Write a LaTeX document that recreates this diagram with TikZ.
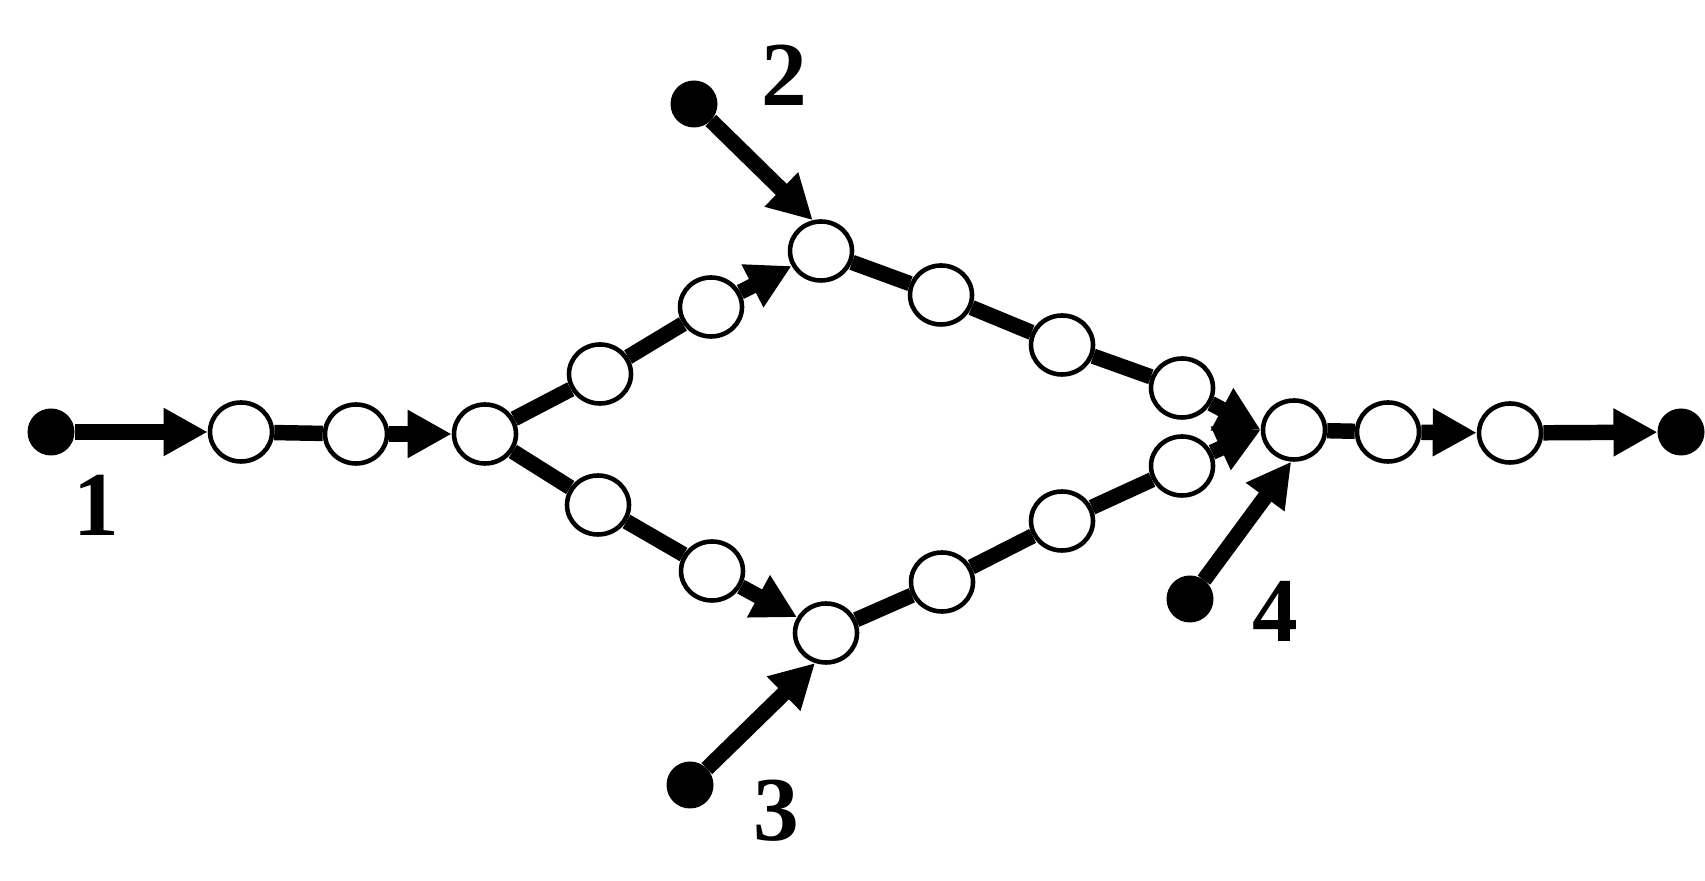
\documentclass[tikz,border=0pt]{standalone}
\usepackage{fontspec}
\setmainfont{Liberation Serif}
\usetikzlibrary{arrows.meta}
\usetikzlibrary{shapes}

\begin{document}
\begin{tikzpicture}[
		x=0.1mm, y=-0.1mm,
		line width=4.4pt,
		>={Triangle[length=4.4mm,width=4.5mm]},
		bead/.style={ellipse,draw,fill=white,line width=1.3pt,minimum width=6.2mm,minimum height=5.9mm,inner sep=0pt},
		source/.style={circle,fill,minimum size=4.7mm,inner sep=0pt,outer sep=0pt},
		tag/.style={font=\fontsize{26}{30}\selectfont\bfseries}
	]

		\useasboundingbox (0,0) rectangle (1705,881);

		% Sources and sink
		\node[source] (s1) at (51, 432) {};
		\node[source] (s2) at (694, 104) {};
		\node[source] (s3) at (690, 785) {};
		\node[source] (s4) at (1190, 599) {};
		\node[source] (out) at (1681, 432) {};

		% Beads
		\node[bead] (a1) at (241, 432) {};
		\node[bead] (a2) at (356, 434) {};
		\node[bead] (a3) at (485, 434) {};
		\node[bead] (u1) at (600, 374) {};
		\node[bead] (u2) at (711, 307) {};
		\node[bead] (u3) at (821, 251) {};
		\node[bead] (u4) at (941, 295) {};
		\node[bead] (u5) at (1062, 345) {};
		\node[bead] (u6) at (1182, 388) {};
		\node[bead] (l1) at (598, 505) {};
		\node[bead] (l2) at (712, 571) {};
		\node[bead] (l3) at (826, 633) {};
		\node[bead] (l4) at (942, 582) {};
		\node[bead] (l5) at (1062, 521) {};
		\node[bead] (l6) at (1182, 466) {};
		\node[bead] (m) at (1294, 430) {};
		\node[bead] (n1) at (1388, 432) {};
		\node[bead] (n2) at (1510, 433) {};

		% Labels
		\node[tag] (t1) at (96, 505) {1};
		\node[tag] (t2) at (784, 75) {2};
		\node[tag] (t3) at (776, 811) {3};
		\node[tag] (t4) at (1275, 611) {4};

		% Flow
		\draw[->] (s1) -- (a1);
		\draw (a1) -- (a2);
		\draw[->] (a2) -- (a3);
		\draw (a3) -- (u1);
		\draw (u1) -- (u2);
		\draw[->] (u2) -- (u3);
		\draw[->] (s2) -- (u3.105);
		\draw (u3) -- (u4);
		\draw (u4) -- (u5);
		\draw (u5) -- (u6);
		\draw[->] (u6) -- (m.west);
		\draw (a3) -- (l1);
		\draw (l1) -- (l2);
		\draw[->] (l2) -- (l3);
		\draw[->] (s3) -- (l3.250);
		\draw (l3) -- (l4);
		\draw (l4) -- (l5);
		\draw (l5) -- (l6);
		\draw[->] (l6) -- (m.west);
		\draw[->] (s4) -- (m.265);
		\draw (m) -- (n1);
		\draw[->] (n1) -- (n2);
		\draw[->] (n2) -- (out);
	\end{tikzpicture}
\end{document}
